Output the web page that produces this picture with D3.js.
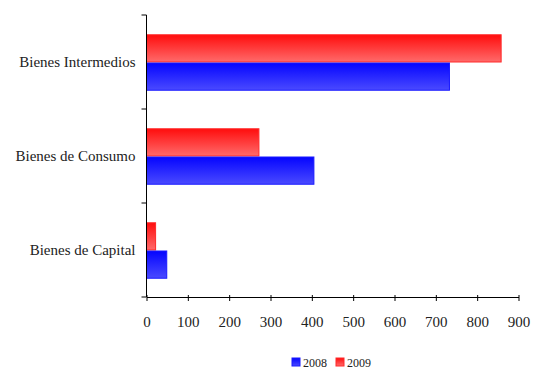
<!DOCTYPE html>
<html><head><meta charset="utf-8">
<script src="https://cdn.jsdelivr.net/npm/d3@7/dist/d3.min.js"></script>
<style>body{margin:0;background:#fff}svg{display:block}svg text{font-family:'Liberation Serif','Times New Roman','DejaVu Serif',serif !important;fill:#222}</style>
</head><body><svg id="c" width="533" height="369"></svg>
<script>
const categories = ["Bienes Intermedios","Bienes de Consumo","Bienes de Capital"];
const series = ["2009","2008"];
const values2008 = [733, 405, 49];
const values2009 = [858, 272, 22];
const xTicks = [0,100,200,300,400,500,600,700,800,900];

const svg = d3.select("#c");
const m = {l:146.5, r:14.5, t:15, b:72};
const W = 533, H = 369;
const x = d3.scaleLinear().domain([0,900]).range([m.l, W - m.r]);
const y = d3.scaleBand().domain(categories).range([m.t, H - m.b]);
const inner = d3.scaleBand().domain(series).range([0, y.bandwidth()]).paddingOuter(0.665);

const defs = svg.append("defs");
function grad(id, c1, c2){
  const g = defs.append("linearGradient").attr("id", id).attr("x1",0).attr("y1",0).attr("x2",0).attr("y2",1);
  g.append("stop").attr("offset","0%").attr("stop-color",c1);
  g.append("stop").attr("offset","100%").attr("stop-color",c2);
}
grad("gRed","#ff0d0d","#ff6a6a");
grad("gBlue","#0505ff","#4a4aff");

const data = [];
categories.forEach((c,i)=>{
  data.push({cat:c, s:"2009", v:values2009[i]});
  data.push({cat:c, s:"2008", v:values2008[i]});
});
svg.append("g").selectAll("rect").data(data).join("rect")
  .attr("x", x(0))
  .attr("y", d => y(d.cat) + inner(d.s) + 1)
  .attr("width", d => x(d.v) - x(0))
  .attr("height", inner.bandwidth() - 1)
  .attr("fill", d => d.s === "2009" ? "url(#gRed)" : "url(#gBlue)")
  .attr("stroke", d => d.s === "2009" ? "#ff2a2a" : "#1a1aff")
  .attr("stroke-width", 1);

// x axis
const xa = svg.append("g").attr("transform", `translate(0,${H - m.b})`)
  .call(d3.axisBottom(x).tickValues(xTicks).tickSize(5).tickSizeOuter(0).tickPadding(14));
xa.attr("font-family", null).attr("font-size", null);
xa.selectAll("text").style("font-size","15px");
xa.select(".domain").attr("stroke","#000");
xa.selectAll(".tick line").attr("stroke","#000").attr("y1",-2).attr("y2",4);

// y axis
const ya = svg.append("g").attr("transform", `translate(${m.l},0)`);
ya.append("line").attr("x1",0).attr("x2",0).attr("y1",m.t).attr("y2",H-m.b).attr("stroke","#000");
const bounds = [y.range()[0]].concat(categories.map(c => y(c) + y.bandwidth()));
ya.selectAll("line.t").data(bounds).join("line").attr("class","t")
  .attr("x1",-5).attr("x2",0).attr("y1",d=>d).attr("y2",d=>d).attr("stroke","#000");
ya.selectAll("text").data(categories).join("text")
  .attr("x", -11).attr("y", d => y(d) + y.bandwidth()/2 + 5)
  .attr("text-anchor","end").style("font-size","15px").text(d => d);

// legend
const legend = [{s:"2008", fill:"url(#gBlue)", stroke:"#1a1aff"},{s:"2009", fill:"url(#gRed)", stroke:"#ff2a2a"}];
const lg = svg.append("g");
legend.forEach((d,i)=>{
  const lx = 292 + i*44;
  lg.append("rect").attr("x",lx).attr("y",358).attr("width",8).attr("height",8)
    .attr("fill",d.fill).attr("stroke",d.stroke);
  lg.append("text").attr("x",lx+11).attr("y",367).style("font-size","12px").text(d.s);
});
</script></body></html>
